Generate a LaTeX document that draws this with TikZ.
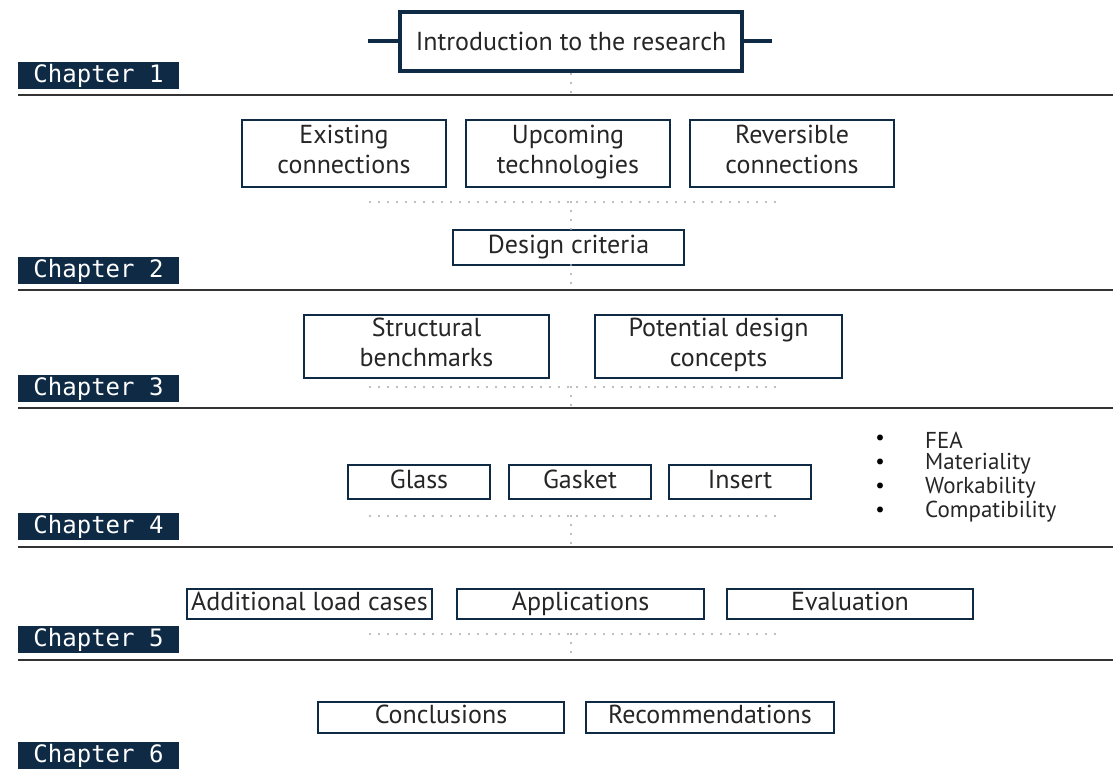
\documentclass[tikz,border=0pt]{standalone}
\usepackage{fontspec}
\setmainfont{PT Sans}
\setmonofont{DejaVu Sans Mono}
\definecolor{navy}{HTML}{0E2A45}
\definecolor{rule}{HTML}{333333}
\definecolor{dots}{HTML}{A8A8A8}
\tikzset{
  stage/.style={draw=navy, line width=2.5pt, fill=white, inner sep=0pt, align=center,
    font=\fontsize{26}{30}\selectfont, text=black!85},
  oneline/.style={stage, text height=18pt, text depth=6pt},
  twoline/.style={stage, execute at begin node=\strut, execute at end node=\strut},
  chapter/.style={fill=navy, text=white, minimum width=161pt, minimum height=27pt,
    inner sep=0pt, font=\ttfamily\fontsize{24}{24}\selectfont},
  link/.style={dots, line width=2.2pt, dash pattern=on 0pt off 9pt, line cap=round},
  sep/.style={rule, line width=2pt}
}
\begin{document}
\begin{tikzpicture}[x=1pt,y=-1pt]
\useasboundingbox (0,0) rectangle (1113,775);

\foreach \y in {95,290,408,547,660}
\draw[sep] (18,\y) -- (1113,\y);

\foreach \y/\n [count=\i] in {75.5/1,271/2,388.5/3,526.5/4,639.5/5,755.5/6}
\node[chapter] (ch\i) at (98.5,\y) {Chapter \n};

\node[oneline, text depth=0pt, line width=4pt, minimum width=342pt, minimum height=59pt] (intro) at (571,41.5) {Introduction to the research};
\coordinate (introL) at (368,41.5);
\coordinate (introR) at (772,41.5);
\draw[navy, line width=4pt] (introL) -- (intro.west) (intro.east) -- (introR);

\node[twoline, minimum width=204pt, minimum height=67pt] (existing) at (344,153.5) {Existing\\connections};
\node[twoline, minimum width=204pt, minimum height=67pt] (upcoming) at (568,153.5) {Upcoming\\technologies};
\node[twoline, minimum width=204pt, minimum height=67pt] (reversible) at (792,153.5) {Reversible\\connections};
\node[oneline, minimum width=231pt, minimum height=35pt] (criteria) at (568.5,247.5) {Design criteria};

\node[twoline, minimum width=245pt, minimum height=63pt] (benchmarks) at (426.5,346.5) {Structural\\benchmarks};
\node[twoline, minimum width=247pt, minimum height=63pt] (concepts) at (718.5,346.5) {Potential design\\concepts};

\node[oneline, minimum width=142pt, minimum height=34pt] (glass) at (419,482) {Glass};
\node[oneline, minimum width=142pt, minimum height=34pt] (gasket) at (580,482) {Gasket};
\node[oneline, minimum width=142pt, minimum height=34pt] (insert) at (740,482) {Insert};

\foreach \t [count=\i] in {FEA,Materiality,Workability,Compatibility}{
\node[anchor=west, inner sep=0pt, font=\fontsize{23}{24}\selectfont, text=black!85] (item\i) at (925,416+24*\i) {\t};
\node[inner sep=0pt, font=\fontsize{21}{22}\selectfont] (dot\i) at (880,416+24*\i) {•};
}

\node[oneline, minimum width=245pt, minimum height=30pt] (loadcases) at (309.5,604) {Additional load cases};
\node[oneline, minimum width=247pt, minimum height=30pt] (applications) at (580.5,604) {Applications};
\node[oneline, minimum width=246pt, minimum height=30pt] (evaluation) at (850,604) {Evaluation};

\node[oneline, minimum width=246pt, minimum height=31pt] (conclusions) at (441,717.5) {Conclusions};
\node[oneline, minimum width=248pt, minimum height=31pt] (recommendations) at (710,717.5) {Recommendations};

\foreach \y in {202,387,516,634}{
\coordinate (h\y L) at (370,\y);
\coordinate (h\y R) at (782,\y);
\draw[link] (h\y L) -- (h\y R);
}
\coordinate (sep1) at (571,95);
\coordinate (sep2) at (571,290);
\coordinate (sep3) at (571,408);
\coordinate (sep4) at (571,547);
\coordinate (sep5) at (571,660);
\draw[link] (571,74) -- (sep1);
\draw[link] (571,202) -- (571,230);
\draw[link] (571,265) -- (sep2);
\draw[link] (571,387) -- (sep3);
\draw[link] (571,516) -- (sep4);
\draw[link] (571,634) -- (sep5);
\end{tikzpicture}
\end{document}
